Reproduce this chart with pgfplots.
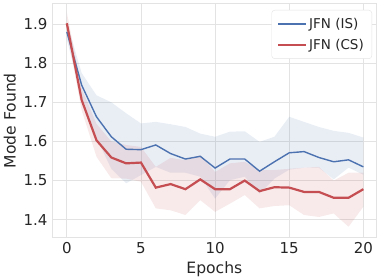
\documentclass[border=0pt]{standalone}
\usepackage{pgfplots}
\pgfplotsset{compat=1.18}
\usepackage{pgfplotstable}
\usepgfplotslibrary{fillbetween}
\usepackage{fontspec}
\setmainfont{DejaVu Sans}
\definecolor{sbblue}{HTML}{4C72B0}
\definecolor{sbred}{HTML}{C44E52}
\definecolor{gridc}{HTML}{E3E3E3}
\definecolor{txt}{HTML}{262626}
\pgfplotstableread{
x IS ISlo IShi CS CSlo CShi
0 1.880 1.860 1.905 1.902 1.880 1.930
1 1.744 1.715 1.775 1.706 1.680 1.735
2 1.663 1.610 1.718 1.603 1.561 1.645
3 1.612 1.530 1.700 1.559 1.506 1.600
4 1.580 1.493 1.672 1.544 1.505 1.591
5 1.579 1.514 1.646 1.546 1.497 1.586
6 1.591 1.535 1.650 1.482 1.429 1.535
7 1.569 1.520 1.644 1.491 1.424 1.558
8 1.555 1.520 1.637 1.478 1.412 1.552
9 1.562 1.510 1.620 1.503 1.450 1.565
10 1.532 1.454 1.612 1.478 1.420 1.522
11 1.555 1.501 1.625 1.478 1.441 1.544
12 1.555 1.510 1.626 1.500 1.463 1.548
13 1.524 1.467 1.599 1.473 1.429 1.527
14 1.548 1.505 1.612 1.483 1.435 1.527
15 1.571 1.528 1.663 1.482 1.437 1.530
16 1.574 1.533 1.650 1.471 1.412 1.533
17 1.559 1.533 1.637 1.471 1.407 1.535
18 1.548 1.503 1.627 1.456 1.416 1.500
19 1.553 1.533 1.622 1.456 1.382 1.520
20 1.535 1.515 1.610 1.478 1.433 1.520
}\data
\begin{document}
\begin{tikzpicture}
\begin{axis}[
  at={(0,0)}, anchor=south west,
  scale only axis, width=324.7pt, height=234pt,
  xmin=-1, xmax=20.9, ymin=1.354, ymax=1.952,
  xtick={0,5,10,15,20}, ytick={1.4,1.5,1.6,1.7,1.8,1.9},
  yticklabel style={/pgf/number format/fixed,/pgf/number format/precision=1,/pgf/number format/fixed zerofill, xshift=-1pt},
  xticklabel style={yshift=-1pt},
  /pgf/number format/assume math mode=true,
  ticklabel style={font=\fontsize{15}{17}\selectfont, text=txt},
  major tick length=0pt,
  grid=major, grid style={gridc, line width=0.8pt},
  axis line style={gridc, line width=1pt},
  xlabel={Epochs}, ylabel={Mode Found},
  label style={font=\fontsize{15.6}{18}\selectfont, text=txt},
  xlabel style={yshift=-1pt},
  ylabel style={yshift=1pt},
  legend style={at={(1,1)}, anchor=north east, xshift=-4.7pt, yshift=-6.3pt,
    draw=gridc, rounded corners=3pt,
    font=\fontsize{13.5}{15}\selectfont, text=txt, fill=white, inner xsep=6pt, inner ysep=6pt, row sep=5pt},
  legend cell align=left,
  legend image code/.code={\draw[#1, line width=1.4pt] (0pt,0pt) -- (28pt,0pt);},
]
\addplot[name path=isl, draw=none, forget plot] table[x=x,y=ISlo] {\data};
\addplot[name path=ish, draw=none, forget plot] table[x=x,y=IShi] {\data};
\addplot[sbblue, fill opacity=0.12, forget plot] fill between[of=isl and ish];
\addplot[name path=csl, draw=none, forget plot] table[x=x,y=CSlo] {\data};
\addplot[name path=csh, draw=none, forget plot] table[x=x,y=CShi] {\data};
\addplot[sbred, fill opacity=0.12, forget plot] fill between[of=csl and csh];
\addplot[sbblue, line width=1.4pt, mark=none] table[x=x,y=IS] {\data};
\addlegendentry{JFN (IS)}
\addplot[sbred, line width=2.2pt, mark=none] table[x=x,y=CS] {\data};
\addlegendentry{JFN (CS)}
\end{axis}
\pgfresetboundingbox
\useasboundingbox (-52pt,-42.3pt) rectangle (330pt,237.7pt);
\end{tikzpicture}
\end{document}
